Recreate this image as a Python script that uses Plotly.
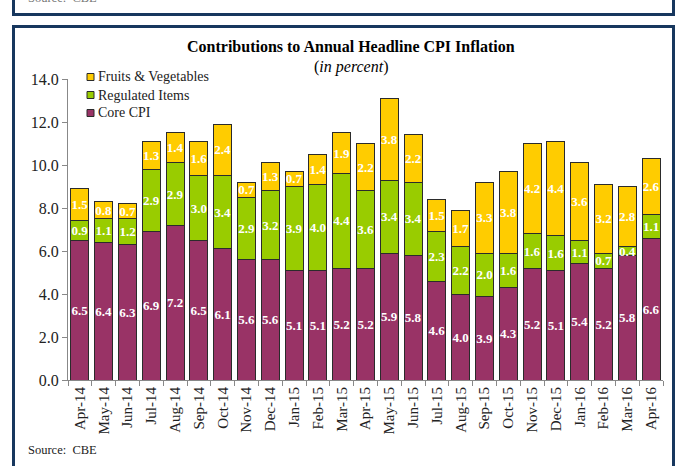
import plotly.graph_objects as go

months = ["Apr-14", "May-14", "Jun-14", "Jul-14", "Aug-14", "Sep-14", "Oct-14", "Nov-14",
          "Dec-14", "Jan-15", "Feb-15", "Mar-15", "Apr-15", "May-15", "Jun-15", "Jul-15",
          "Aug-15", "Sep-15", "Oct-15", "Nov-15", "Dec-15", "Jan-16", "Feb-16", "Mar-16", "Apr-16"]
core_cpi = [6.5, 6.4, 6.3, 6.9, 7.2, 6.5, 6.1, 5.6, 5.6, 5.1, 5.1, 5.2, 5.2, 5.9, 5.8, 4.6,
            4.0, 3.9, 4.3, 5.2, 5.1, 5.4, 5.2, 5.8, 6.6]
regulated = [0.9, 1.1, 1.2, 2.9, 2.9, 3.0, 3.4, 2.9, 3.2, 3.9, 4.0, 4.4, 3.6, 3.4, 3.4, 2.3,
             2.2, 2.0, 1.6, 1.6, 1.6, 1.1, 0.7, 0.4, 1.1]
fruits_veg = [1.5, 0.8, 0.7, 1.3, 1.4, 1.6, 2.4, 0.7, 1.3, 0.7, 1.4, 1.9, 2.2, 3.8, 2.2, 1.5,
              1.7, 3.3, 3.8, 4.2, 4.4, 3.6, 3.2, 2.8, 2.6]
y_ticks = [0, 2, 4, 6, 8, 10, 12, 14]

FONT = "Liberation Serif, Times New Roman, serif"
W, H = 679, 466
ML, MR, MT, MB = 68, 16, 79, 86
PW, PH = W - ML - MR, H - MT - MB


def px(x):
    return (x - ML) / PW


def py(y):
    return (H - MB - y) / PH


fig = go.Figure()
series = [("Core CPI", core_cpi, "#993366"),
          ("Regulated Items", regulated, "#99CC00"),
          ("Fruits & Vegetables", fruits_veg, "#FFCC00")]
for name, vals, col in series:
    fig.add_trace(go.Bar(
        x=months, y=vals, name=name,
        marker=dict(color=col, line=dict(color="#2b2b2b", width=1)),
        text=[f"{v:.1f}" for v in vals],
        textposition="inside", insidetextanchor="middle", textangle=0,
        textfont=dict(family=FONT, size=13, color="white", weight="bold"),
        hoverinfo="skip", showlegend=False,
    ))

navy = "#17375E"
shapes = [
    dict(type="rect", xref="paper", yref="paper",
         x0=px(13.5), x1=px(673.5), y0=py(-20), y1=py(14.5),
         line=dict(color=navy, width=3), layer="above"),
    dict(type="rect", xref="paper", yref="paper",
         x0=px(13.5), x1=px(673.5), y0=py(26.5), y1=py(480),
         line=dict(color=navy, width=3), layer="above"),
]

annotations = [
    dict(text="<b>Contributions to Annual Headline CPI Inflation</b>",
         xref="paper", yref="paper", x=px(351), y=py(47), showarrow=False,
         font=dict(family=FONT, size=16, color="black"), xanchor="center", yanchor="middle"),
    dict(text="(<i>in percent</i>)",
         xref="paper", yref="paper", x=px(351), y=py(67), showarrow=False,
         font=dict(family=FONT, size=16, color="black"), xanchor="center", yanchor="middle"),
    dict(text="Source:  CBE",
         xref="paper", yref="paper", x=px(26), y=py(450), showarrow=False,
         font=dict(family=FONT, size=12.5, color="#222"), xanchor="left", yanchor="middle"),
    dict(text="Source:  CBE",
         xref="paper", yref="paper", x=px(26), y=py(-2), showarrow=False,
         font=dict(family=FONT, size=12.5, color="#777"), xanchor="left", yanchor="middle"),
]

# legend (top-left, drawn as small swatches with labels)
legend_rows = [("Fruits & Vegetables", "#FFCC00", 77),
               ("Regulated Items", "#99CC00", 95),
               ("Core CPI", "#993366", 113)]
for label, col, yy in legend_rows:
    shapes.append(dict(type="rect", xref="paper", yref="paper",
                       x0=px(87), x1=px(94), y0=py(yy + 3.5), y1=py(yy - 3.5),
                       fillcolor=col, line=dict(color="#2b2b2b", width=1)))
    annotations.append(dict(text=label, xref="paper", yref="paper", x=px(96), y=py(yy),
                            showarrow=False, xanchor="left", yanchor="middle",
                            font=dict(family=FONT, size=14, color="#222")))

fig.update_layout(
    width=W, height=H,
    margin=dict(l=ML, r=MR, t=MT, b=MB, autoexpand=False),
    paper_bgcolor="white", plot_bgcolor="white",
    barmode="stack", bargap=0.24,
    showlegend=False,
    uniformtext=dict(minsize=13, mode="show"),
    shapes=shapes, annotations=annotations,
    xaxis=dict(type="category", tickangle=-90, showgrid=False,
               showline=True, linecolor="#888", linewidth=1,
               ticks="outside", tickson="boundaries", ticklen=5, tickcolor="#888",
               tickfont=dict(family=FONT, size=15, color="#222")),
    yaxis=dict(range=[0, 14], tickvals=y_ticks, tickformat=".1f", showgrid=False,
               showline=True, linecolor="#888", linewidth=1,
               ticks="outside", ticklen=5, tickcolor="#888", zeroline=False,
               tickfont=dict(family=FONT, size=16, color="#222")),
)

fig.write_html("out.html", config={"displayModeBar": False},
               post_script="document.body.style.margin='0';")
